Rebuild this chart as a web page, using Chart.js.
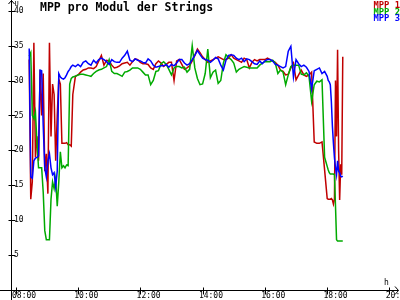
<!DOCTYPE html>
<html><head><meta charset="utf-8">
<script src="https://cdn.jsdelivr.net/npm/chart.js@4"></script>
<style>html,body{margin:0;padding:0;background:#fff;}canvas{display:block;}</style>
</head><body>
<canvas id="c" width="400" height="300"></canvas>
<script>
const times = [
"08:26","08:29","08:32","08:35","08:38","08:41","08:44","08:47","08:50","08:53","08:56","08:59",
"09:02","09:05","09:08","09:11","09:14","09:17","09:20","09:23","09:26","09:29","09:32","09:35","09:38","09:41","09:44","09:47","09:50",
"09:55",
"10:00","10:05","10:10","10:15","10:20","10:25","10:30","10:35","10:40","10:45","10:50","10:55",
"11:00","11:05","11:10","11:15","11:20","11:25","11:30","11:35","11:40","11:45","11:50","11:55",
"12:00","12:05","12:10","12:15","12:20","12:25","12:30","12:35","12:40","12:45","12:50","12:55",
"13:00","13:05","13:10","13:15","13:20","13:25","13:30","13:35","13:40","13:45","13:50","13:55",
"14:00","14:05","14:10","14:15","14:20","14:25","14:30","14:35","14:40","14:45","14:50","14:55",
"15:00","15:05","15:10","15:15","15:20","15:25","15:30","15:35","15:40","15:45","15:50","15:55",
"16:00","16:05","16:10","16:15","16:20","16:25","16:30","16:35","16:40","16:45","16:50","16:55",
"17:00","17:05","17:10","17:15","17:20","17:25","17:30","17:35","17:40","17:45","17:50","17:55",
"18:00",
"18:02","18:04","18:06","18:08","18:10","18:12","18:14","18:16","18:18","18:20","18:22","18:24","18:26","18:28","18:30"
];
const mpp1 = [
33.0,13.0,15.5,35.4,19.0,22.0,18.5,31.5,25.0,31.0,17.0,19.5,
13.8,35.4,22.0,29.5,28.0,18.5,25.0,30.2,29.5,21.0,21.0,21.0,21.1,20.8,20.8,20.6,28.0,
30.6,
30.8,31.2,31.5,31.6,31.8,31.8,31.7,32.0,32.8,33.6,32.2,32.9,
32.8,32.2,31.8,31.9,32.1,32.4,32.5,32.6,32.2,32.7,33.1,33.0,
32.6,32.4,32.4,32.3,31.8,31.6,32.4,32.8,32.5,32.0,32.3,32.6,
32.6,30.0,32.8,33.0,32.3,31.6,31.8,32.1,32.8,33.6,34.5,34.0,
33.4,33.0,32.6,32.8,33.0,33.2,33.4,33.2,33.0,33.0,33.2,33.7,
33.2,33.0,32.8,32.6,33.2,33.0,31.8,32.6,33.0,32.8,33.0,33.0,
33.0,33.2,33.0,32.8,32.6,32.2,31.5,31.3,30.8,30.9,31.8,32.5,
30.1,30.8,31.5,30.8,30.6,30.8,31.2,21.2,21.0,21.0,21.2,17.2,
13.1,
13.0,13.0,13.0,13.1,12.9,12.3,13.0,30.0,22.0,34.4,20.0,12.9,18.0,16.5,33.4
];
const mpp2 = [
33.5,34.0,25.0,24.5,25.5,21.0,17.5,17.5,17.5,14.0,8.5,7.2,
7.2,7.2,13.0,15.5,14.5,16.0,12.0,15.5,19.8,17.5,17.8,17.5,17.9,17.8,29.5,30.3,30.5,
30.6,
30.8,30.9,30.9,30.8,30.7,30.6,31.0,31.3,31.5,31.6,31.8,32.0,
33.0,31.3,31.0,31.0,30.8,30.6,31.2,31.3,31.5,31.8,31.8,31.8,
31.6,31.2,30.8,30.8,29.4,30.0,31.3,31.4,32.4,32.7,32.3,31.6,
30.8,31.8,32.0,32.0,31.8,31.9,31.2,31.6,35.0,31.8,30.3,29.4,
29.5,31.0,34.5,30.4,31.2,31.5,29.6,30.0,32.5,33.7,33.3,33.0,
32.5,31.2,31.6,31.8,32.0,31.9,31.8,31.8,31.8,31.8,32.2,32.5,
32.7,32.7,32.7,32.9,32.5,31.0,31.5,31.2,29.4,30.8,32.0,32.2,
32.2,32.2,30.9,30.8,31.1,30.6,27.0,29.4,29.9,29.8,30.1,19.0,
17.7,
17.2,16.8,16.6,16.6,16.6,16.6,16.5,12.0,7.2,7.0,7.0,7.0,7.0,7.0,7.0
];
const mpp3 = [
34.6,16.2,16.0,18.5,18.9,19.0,19.2,31.5,31.4,23.5,17.5,16.2,
18.5,19.5,17.5,16.5,16.8,14.8,17.0,31.0,30.5,30.3,30.2,30.4,30.8,31.3,31.6,32.0,32.2,
32.0,
32.3,32.0,32.6,32.8,32.4,32.2,32.9,32.5,33.0,33.2,33.0,32.7,
32.3,33.0,32.7,32.6,32.6,33.2,33.6,34.2,32.9,32.7,33.1,32.9,
32.8,32.6,32.5,33.1,32.8,32.2,31.9,32.0,32.1,32.1,32.3,31.9,
32.3,32.1,32.5,33.0,33.0,32.5,32.2,32.4,33.0,33.6,34.3,33.7,
33.2,33.0,32.9,32.6,32.9,33.3,33.1,32.2,31.5,32.9,33.6,33.7,
33.6,33.2,33.0,33.2,32.7,33.1,33.0,32.7,32.4,32.3,32.8,32.4,
32.8,33.0,33.0,32.8,32.3,32.2,32.0,31.8,32.0,34.2,34.9,30.5,
33.0,32.4,32.0,32.2,31.9,31.3,28.8,31.4,31.6,31.8,31.0,31.3,
30.6,
30.0,29.8,29.4,27.0,23.5,21.0,18.9,17.5,16.5,18.5,17.0,16.8,16.3,16.2,16.3
];
const seriesNames = ['MPP 1','MPP 2','MPP 3'];
const seriesColors = ['#c00000','#00aa00','#0000ff'];
const xTickHours = [8,10,12,14,16,18,20];
const xTickLabels = ['08:00','10:00','12:00','14:00','16:00','18:00','20:00'];
const yTickValues = [5,10,15,20,25,30,35,40];
const titleText = 'MPP pro Modul der Strings';
const yUnit = 'U';
const xUnit = 'h';

function toHours(t){const p=t.split(':');return Number(p[0])+Number(p[1])/60;}
function pts(vals){return vals.map((v,i)=>({x:toHours(times[i]),y:v}));}
const MONO='"DejaVu Sans Mono", monospace';

const decor={
  id:'decor',
  afterDraw(chart){
    const ctx=chart.ctx, xs=chart.scales.x, ys=chart.scales.y;
    const ax=Math.round(chart.chartArea.left)+0.5;
    const ay=Math.round(chart.chartArea.bottom)+0.5;
    ctx.save();
    ctx.strokeStyle='#000'; ctx.lineWidth=1;
    ctx.beginPath();
    ctx.moveTo(ax,0); ctx.lineTo(ax,300);
    ctx.moveTo(0,ay); ctx.lineTo(398.5,ay);
    ctx.moveTo(ax-3,4); ctx.lineTo(ax,0.5); ctx.lineTo(ax+3,4);
    ctx.moveTo(395,ay-4); ctx.lineTo(398.5,ay); ctx.lineTo(395,ay+4);
    yTickValues.forEach(v=>{const p=Math.round(ys.getPixelForValue(v))+0.5;ctx.moveTo(ax-3,p);ctx.lineTo(ax+4,p);});
    xTickHours.forEach(h=>{const p=Math.round(xs.getPixelForValue(h))+0.5;ctx.moveTo(p,ay-3);ctx.lineTo(p,ay+4);});
    ctx.stroke();
    ctx.fillStyle='#000';
    ctx.textBaseline='alphabetic';
    ctx.textAlign='left';
    ctx.font='bold 11.5px '+MONO;
    ctx.fillText(titleText,40,11);
    ctx.font='7px '+MONO;
    ctx.fillText(yUnit,14.5,5.5);
    ctx.font='8px '+MONO;
    ctx.fillText(xUnit,384,284.5);
    ctx.font='bold 8.8px '+MONO;
    ctx.textAlign='right';
    seriesNames.forEach((n,i)=>{ctx.fillStyle=seriesColors[i];ctx.fillText(n,400,7.6+i*6.9);});
    ctx.restore();
  }
};

new Chart(document.getElementById('c'),{
  type:'line',
  data:{datasets:[
    {label:seriesNames[0],data:pts(mpp1),borderColor:seriesColors[0],borderWidth:1.5,pointRadius:0,fill:false,tension:0,order:2},
    {label:seriesNames[1],data:pts(mpp2),borderColor:seriesColors[1],borderWidth:1.5,pointRadius:0,fill:false,tension:0,order:1},
    {label:seriesNames[2],data:pts(mpp3),borderColor:seriesColors[2],borderWidth:1.5,pointRadius:0,fill:false,tension:0,order:0}
  ]},
  options:{
    responsive:false, animation:false, devicePixelRatio:1,
    layout:{padding:{left:0,right:2,top:0,bottom:0}},
    plugins:{legend:{display:false},tooltip:{enabled:false},title:{display:false}},
    scales:{
      x:{type:'linear',position:'bottom',min:7.849,max:20.273,
        grid:{display:false,drawTicks:false},border:{display:false},
        ticks:{autoSkip:false,maxRotation:0,minRotation:0,align:'start',labelOffset:-3.7,padding:1,color:'#000',
          font:{family:MONO,size:8},
          callback:(v)=>{const i=xTickHours.indexOf(v);return i>=0?xTickLabels[i]:'';}},
        afterBuildTicks:(s)=>{s.ticks=xTickHours.map(v=>({value:v}));},
        afterFit:(s)=>{s.height=10;s.paddingLeft=0;s.paddingRight=0;}
      },
      y:{type:'linear',position:'left',min:0,max:41.53,
        grid:{display:false,drawTicks:false},border:{display:false},
        ticks:{mirror:true,padding:3,color:'#000',font:{family:MONO,size:8}},
        afterBuildTicks:(s)=>{s.ticks=yTickValues.map(v=>({value:v}));},
        afterFit:(s)=>{s.width=11;s.paddingTop=0;s.paddingBottom=0;}
      }
    }
  },
  plugins:[decor]
});
</script>
</body></html>
